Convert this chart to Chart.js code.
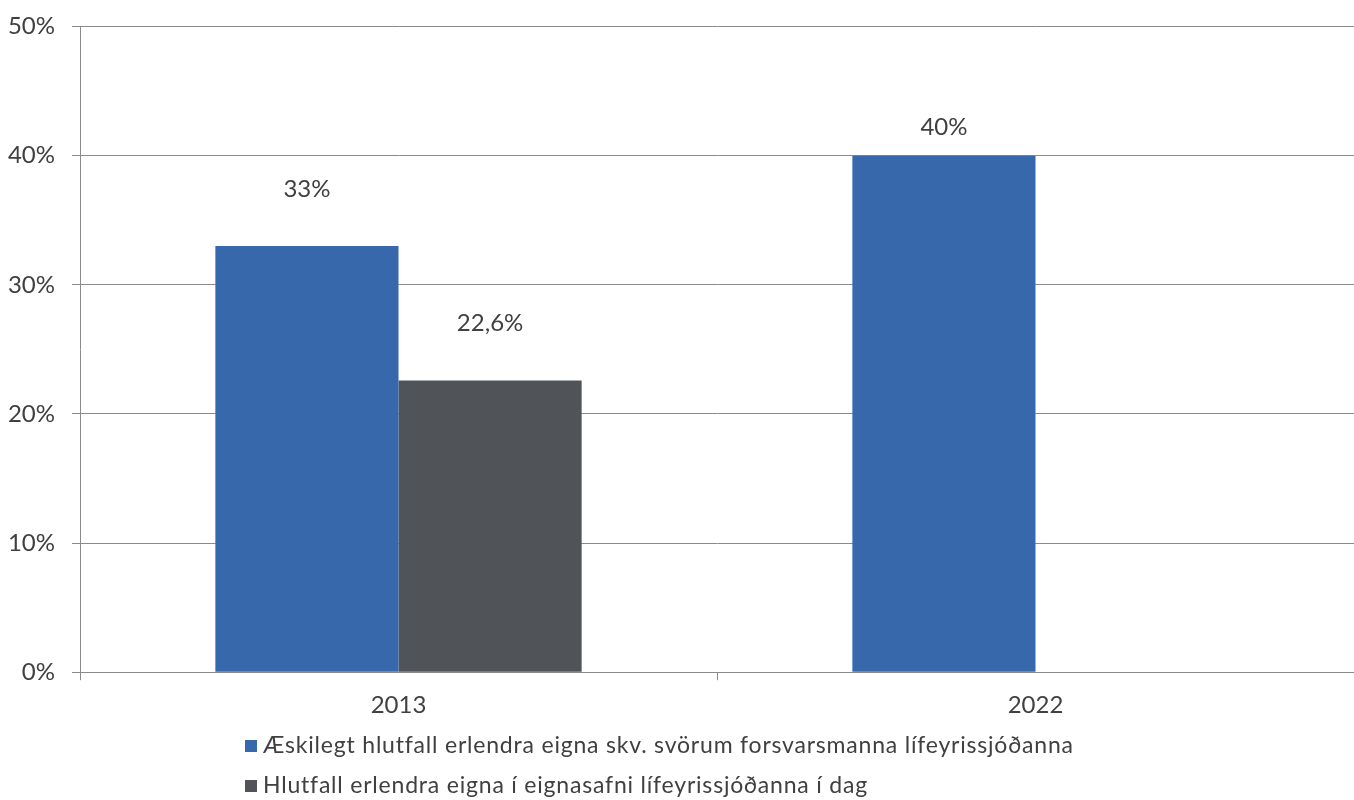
<!DOCTYPE html>
<html>
<head>
<meta charset="utf-8">
<script src="https://cdn.jsdelivr.net/npm/chart.js@4"></script>
<style>
  body { margin: 0; background: #fff; }
  #wrap { width: 1354px; height: 800px; }
</style>
</head>
<body>
<div id="wrap"><canvas id="chartBar"></canvas></div>
<script>
const years = ["2013", "2022"];
const desiredShare = [33, 40];
const currentShare = [22.6, null];
const yTicks = [0, 10, 20, 30, 40, 50];

const seriesNames = [
  "Æskilegt hlutfall erlendra eigna skv. svörum forsvarsmanna lífeyrissjóðanna",
  "Hlutfall erlendra eigna í eignasafni lífeyrissjóðanna í dag"
];

const FONT = "Lato, 'Open Sans', sans-serif";
const TEXT = "#404040";
const GRID = "#8a8a8a";

const pct = (v) => String(v).replace(".", ",") + "%";

// value labels floating above each bar
const barLabels = {
  id: "barLabels",
  afterDatasetsDraw(chart, args, opts) {
    const ctx = chart.ctx;
    ctx.save();
    ctx.font = "24px " + FONT;
    ctx.fillStyle = TEXT;
    ctx.textAlign = "center";
    ctx.textBaseline = "middle";
    chart.data.datasets.forEach((ds, i) => {
      chart.getDatasetMeta(i).data.forEach((bar, j) => {
        const v = ds.data[j];
        if (v == null) return;
        ctx.fillText(pct(v), bar.x, bar.y - opts.lift[i][j]);
      });
    });
    ctx.restore();
  }
};

// two-row legend under the axis
const rowLegend = {
  id: "rowLegend",
  afterDraw(chart, args, opts) {
    const ctx = chart.ctx;
    ctx.save();
    ctx.font = "23px " + FONT;
    ctx.letterSpacing = "0.8px";
    ctx.textBaseline = "middle";
    chart.data.datasets.forEach((ds, i) => {
      const y = opts.top + i * opts.rowGap;
      ctx.fillStyle = ds.backgroundColor;
      ctx.fillRect(opts.left, y - 6, 12, 12);
      ctx.fillStyle = TEXT;
      ctx.fillText(ds.label, opts.left + 18, y);
    });
    ctx.restore();
  }
};

new Chart(document.getElementById("chartBar"), {
  type: "bar",
  data: {
    labels: years,
    datasets: [
      {
        label: seriesNames[0],
        data: desiredShare,
        backgroundColor: "#3768ac"
      },
      {
        label: seriesNames[1],
        data: currentShare,
        backgroundColor: "#505458"
      }
    ]
  },
  options: {
    responsive: true,
    maintainAspectRatio: false,
    animation: false,
    categoryPercentage: 0.575,
    barPercentage: 1,
    layout: { padding: { top: 26, right: 0, bottom: 69, left: 0 } },
    plugins: {
      legend: { display: false },
      tooltip: { enabled: false },
      barLabels: { lift: [[57, 28], [57, 0]] },
      rowLegend: { left: 245, top: 746, rowGap: 40 }
    },
    scales: {
      x: {
        grid: {
          drawOnChartArea: false,
          tickLength: 8,
          color: GRID
        },
        border: { color: GRID },
        ticks: {
          color: TEXT,
          padding: 11,
          font: { family: FONT, size: 24 }
        }
      },
      y: {
        min: 0,
        max: 50,
        afterFit: (s) => { s.width = 80; },
        afterBuildTicks: (s) => { s.ticks = yTicks.map((v) => ({ value: v })); },
        grid: { color: GRID, tickLength: 8 },
        border: { color: GRID },
        ticks: {
          color: TEXT,
          padding: 17,
          font: { family: FONT, size: 24, lineHeight: 0.8 },
          callback: (v) => v + "%"
        }
      }
    }
  },
  plugins: [barLabels, rowLegend]
});
</script>
</body>
</html>
